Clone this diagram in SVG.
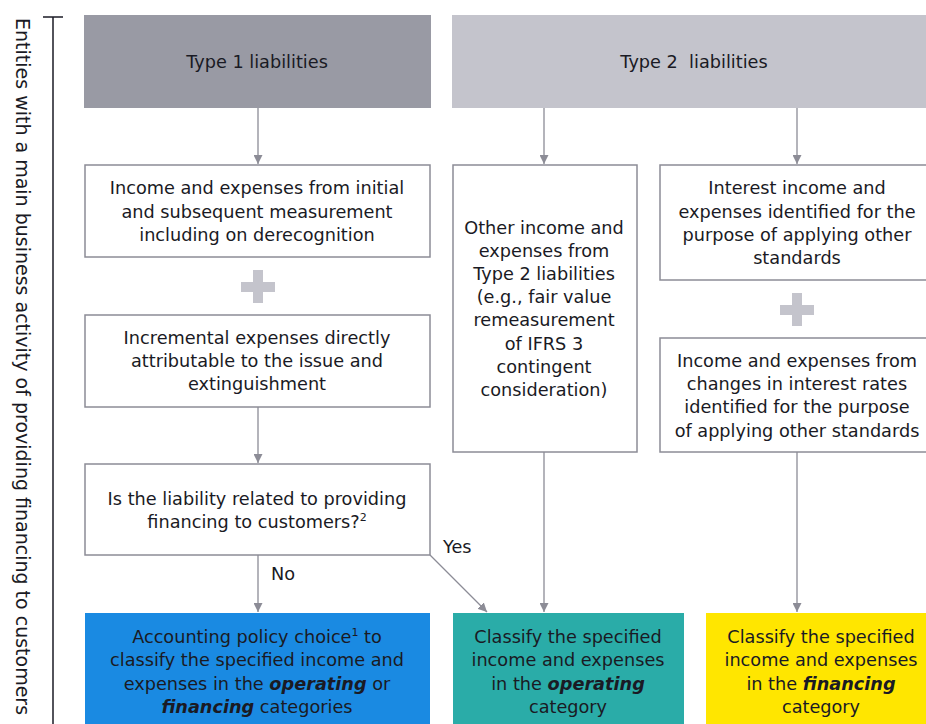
<svg xmlns="http://www.w3.org/2000/svg" width="926" height="724" viewBox="0 0 926 724">
<style>
text{font-family:"DejaVu Sans","Noto Sans",sans-serif;font-size:17.7px;fill:#1a1a24;text-anchor:middle}
.box{fill:#fff;stroke:#8c8c96;stroke-width:1.5}
.c{stroke:#8c8c96;stroke-width:1.3;fill:none;marker-end:url(#a)}
.plus{fill:#c4c4cc}
.lbl{text-anchor:start}
.sup{font-size:11px}
</style>
<defs>
<marker id="a" viewBox="0 0 10 10" refX="10" refY="5" markerWidth="9" markerHeight="9" markerUnits="userSpaceOnUse" orient="auto">
<path d="M0,0 L10,5 L0,10 z" fill="#8c8c96"/>
</marker>
</defs>
<g id="side">
<line x1="53" y1="17" x2="53" y2="724" stroke="#1a1a24" stroke-width="1.5"/>
<line x1="43" y1="17" x2="63" y2="17" stroke="#1a1a24" stroke-width="1.5"/>
<text transform="translate(16,18) rotate(90)" style="text-anchor:start;font-size:19px">Entities with a main business activity of providing financing to customers</text>
</g>
<g id="type1"><rect x="84" y="15" width="347" height="93" fill="#999aa4"/><text x="257" y="68">Type 1 liabilities</text></g>
<g id="type2"><rect x="452" y="15" width="474" height="93" fill="#c4c4cc"/><text x="694" y="68" xml:space="preserve">Type 2  liabilities</text></g>
<g id="n1"><rect class="box" x="85" y="165" width="345" height="92"/>
<text x="257" y="194">Income and expenses from initial</text><text x="257" y="218">and subsequent measurement</text><text x="257" y="241">including on derecognition</text></g>
<g id="plus1"><rect class="plus" x="253" y="270" width="10" height="33"/><rect class="plus" x="241" y="282" width="34" height="10"/></g>
<g id="n2"><rect class="box" x="85" y="315" width="345" height="92"/>
<text x="257" y="344">Incremental expenses directly</text><text x="257" y="367">attributable to the issue and</text><text x="257" y="390">extinguishment</text></g>
<g id="n3"><rect class="box" x="85" y="464" width="345" height="91"/>
<text x="257" y="505">Is the liability related to providing</text><text x="257" y="528">financing to customers?<tspan class="sup" dy="-7">2</tspan></text></g>
<g id="n4"><rect class="box" x="453" y="165" width="184" height="287"/>
<text x="544" y="234">Other income and</text><text x="544" y="257">expenses from</text><text x="544" y="280">Type 2 liabilities</text><text x="544" y="303">(e.g., fair value</text><text x="544" y="326">remeasurement</text><text x="544" y="350">of IFRS 3</text><text x="544" y="373">contingent</text><text x="544" y="396">consideration)</text></g>
<g id="n5"><rect class="box" x="660" y="165" width="270" height="115"/>
<text x="797" y="194">Interest income and</text><text x="797" y="218">expenses identified for the</text><text x="797" y="241">purpose of applying other</text><text x="797" y="264">standards</text></g>
<g id="plus2"><rect class="plus" x="792" y="293" width="10" height="33"/><rect class="plus" x="780" y="305" width="34" height="10"/></g>
<g id="n6"><rect class="box" x="660" y="338" width="270" height="114"/>
<text x="797" y="367">Income and expenses from</text><text x="797" y="390">changes in interest rates</text><text x="797" y="413">identified for the purpose</text><text x="797" y="437">of applying other standards</text></g>
<g id="out1"><rect x="85" y="613" width="345" height="111" fill="#1a8ae2"/>
<text x="257" y="643">Accounting policy choice<tspan class="sup" dy="-7">1</tspan><tspan dy="7"> to</tspan></text>
<text x="257" y="666">classify the specified income and</text>
<text x="257" y="690">expenses in the <tspan font-weight="bold" font-style="italic">operating</tspan> or</text>
<text x="257" y="713"><tspan font-weight="bold" font-style="italic">financing</tspan> categories</text></g>
<g id="out2"><rect x="453" y="613" width="231" height="111" fill="#2aaca8"/>
<text x="568" y="643">Classify the specified</text><text x="568" y="666">income and expenses</text>
<text x="568" y="690">in the <tspan font-weight="bold" font-style="italic">operating</tspan></text><text x="568" y="713">category</text></g>
<g id="out3"><rect x="706" y="613" width="220" height="111" fill="#ffe600"/>
<text x="821" y="643">Classify the specified</text><text x="821" y="666">income and expenses</text>
<text x="821" y="690">in the <tspan font-weight="bold" font-style="italic">financing</tspan></text><text x="821" y="713">category</text></g>
<g id="connectors">
<path class="c" d="M258,108 V164"/>
<path class="c" d="M258,407 V463"/>
<path class="c" d="M258,555 V612"/>
<path class="c" d="M544,108 V164"/>
<path class="c" d="M797,108 V164"/>
<path class="c" d="M544,452 V612"/>
<path class="c" d="M797,452 V612"/>
<path class="c" d="M430,555 L487,612"/>
<text class="lbl" x="443" y="553">Yes</text>
<text class="lbl" x="271" y="580">No</text>
</g>
</svg>
